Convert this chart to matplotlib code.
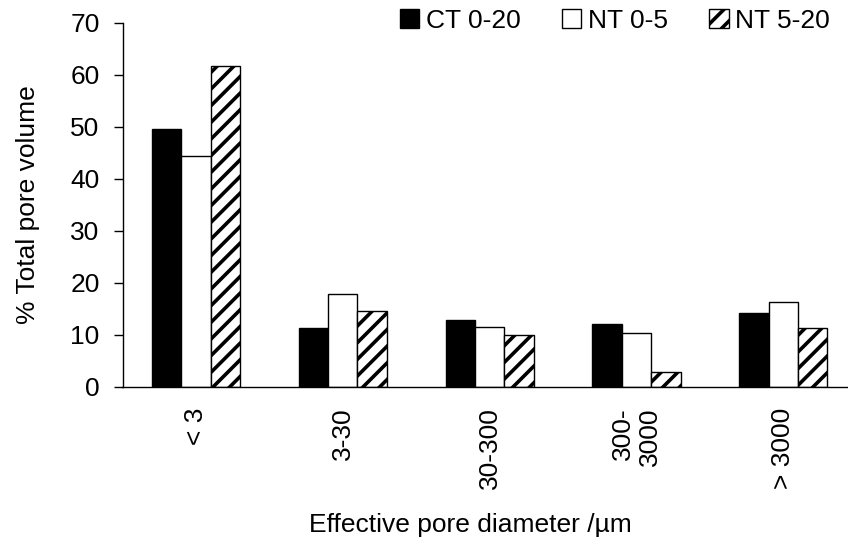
import numpy as np
import matplotlib
matplotlib.use('Agg')
import matplotlib.pyplot as plt

plt.rcParams['font.family'] = ['Liberation Sans', 'DejaVu Sans']
plt.rcParams['hatch.linewidth'] = 2.6

categories = ['< 3', '3-30', '30-300', '300-\n3000', '> 3000']
ct_0_20 = [49.6, 11.2, 12.9, 12.0, 14.1]
nt_0_5 = [44.4, 17.8, 11.5, 10.3, 16.2]
nt_5_20 = [61.7, 14.6, 9.9, 2.8, 11.2]

fig = plt.figure(figsize=(8.48, 5.47), dpi=100)
ax = fig.add_axes([122.5 / 848, 1 - 386.7 / 547, 1 - 122.5 / 848, (386.7 - 22.7) / 547])

x = np.arange(len(categories))
w = 0.2
ax.bar(x - w, ct_0_20, w, color='black', edgecolor='black', linewidth=1, label='CT 0-20')
ax.bar(x, nt_0_5, w, color='white', edgecolor='black', linewidth=1, label='NT 0-5')
ax.bar(x + w, nt_5_20, w, color='white', edgecolor='black', linewidth=1,
       hatch='//', label='NT 5-20')

ax.set_xlim(-0.5, 4.44)
ax.set_ylim(0, 70)
ax.set_yticks(range(0, 71, 10))
ax.set_xticks(x)
ax.set_xticklabels(categories, rotation=90, fontsize=19, multialignment='right')
ax.tick_params(axis='y', labelsize=19, length=6.5, width=1, pad=10, direction='out')
ax.tick_params(axis='x', length=0, pad=15)

ax.spines['top'].set_visible(False)
ax.spines['right'].set_visible(False)
ax.spines['left'].set_linewidth(1)
ax.spines['bottom'].set_linewidth(1)

fig.text(28 / 848, 1 - 205 / 547, '% Total pore volume', rotation=90,
         ha='center', va='center', fontsize=19)
fig.text(470 / 848, 1 - 525 / 547, 'Effective pore diameter /\u00b5m',
         ha='center', va='center', fontsize=19)

fig.legend(loc='center right', bbox_to_anchor=(830 / 848, 1 - 21 / 547),
           ncol=3, frameon=False, fontsize=19, borderpad=0,
           handlelength=0.75, handleheight=0.75, handletextpad=0.25,
           columnspacing=1.55, borderaxespad=0)

fig.savefig('out.png', dpi=100)
